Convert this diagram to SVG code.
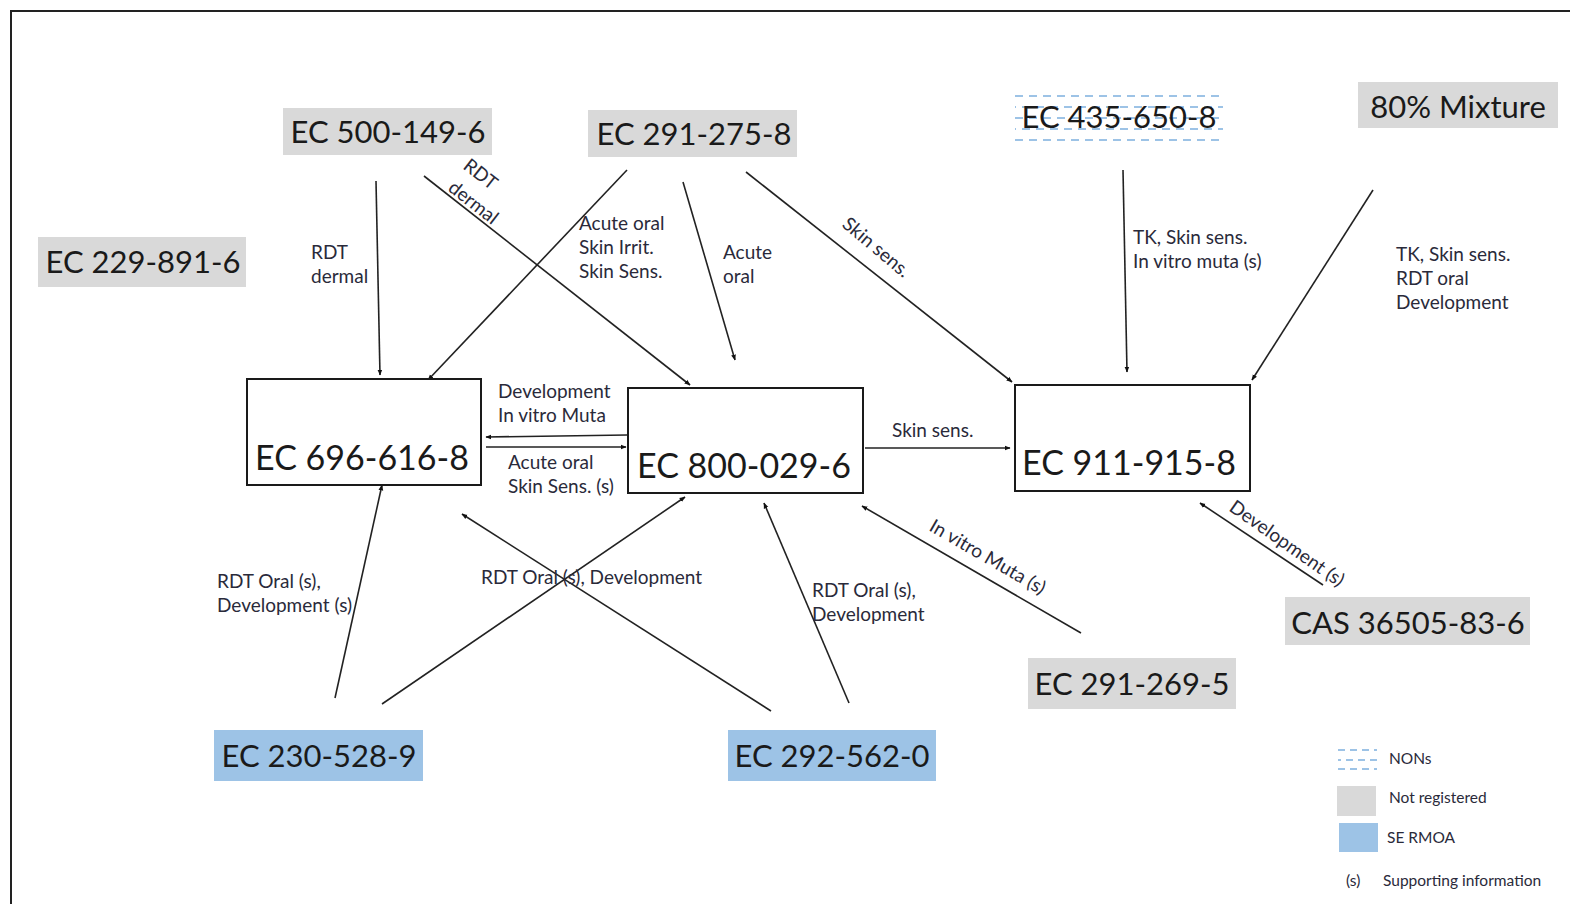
<svg xmlns="http://www.w3.org/2000/svg" width="1570" height="904" viewBox="0 0 1570 904">
<style>
.gray{fill:#d9d9d9}
.blue{fill:#9dc3e6}
.box{fill:#fff;stroke:#1a1a1a;stroke-width:2}
.big{font-family:Lato,"Liberation Sans",sans-serif;font-size:34px;fill:#1a1a1a}
.mid{font-family:Lato,"Liberation Sans",sans-serif;font-size:31px;fill:#1a1a1a}
.lbl{font-family:Lato,"Liberation Sans",sans-serif;font-size:19px;fill:#2a2a3a}
.leg{font-family:Lato,"Liberation Sans",sans-serif;font-size:15.5px;fill:#2a2a3a}
.c line{stroke:#222;stroke-width:1.6;marker-end:url(#ah)}
</style>
<defs>
<marker id="ah" viewBox="0 0 10 10" refX="9" refY="5" markerWidth="6" markerHeight="6" orient="auto" markerUnits="userSpaceOnUse">
<path d="M0,1 L10,5 L0,9 z" fill="#111"/>
</marker>
<pattern id="dash" width="14" height="22" patternUnits="userSpaceOnUse" x="1015" y="92">
<line x1="0" y1="4" x2="8" y2="4" stroke="#9dc3e6" stroke-width="2"/>
<line x1="7" y1="15" x2="14" y2="15" stroke="#9dc3e6" stroke-width="2"/>
<line x1="0" y1="15" x2="1" y2="15" stroke="#9dc3e6" stroke-width="2"/>
</pattern>
</defs>
<rect x="0" y="0" width="1570" height="904" fill="#fff"/>
<rect x="11" y="11" width="1580" height="920" fill="none" stroke="#222" stroke-width="2"/>

<g class="c" id="connectors">
<line x1="376" y1="181" x2="380" y2="375"/>
<line x1="424" y1="176" x2="690" y2="385"/>
<line x1="627" y1="170" x2="428" y2="380"/>
<line x1="683" y1="182" x2="735" y2="360"/>
<line x1="746" y1="172" x2="1012" y2="382"/>
<line x1="1123" y1="170" x2="1127" y2="372"/>
<line x1="1373" y1="190" x2="1252" y2="380"/>
<line x1="627" y1="435" x2="486" y2="437"/>
<line x1="486" y1="447" x2="626" y2="447"/>
<line x1="865" y1="448" x2="1010" y2="448"/>
<line x1="1081" y1="633" x2="862" y2="506"/>
<line x1="1323" y1="585" x2="1200" y2="503"/>
<line x1="335" y1="698" x2="382" y2="485"/>
<line x1="382" y1="704" x2="685" y2="497"/>
<line x1="771" y1="711" x2="462" y2="514"/>
<line x1="849" y1="703" x2="764" y2="503"/>
</g>

<g id="edge-labels">
<text class="lbl" x="311" y="259">RDT</text>
<text class="lbl" x="311" y="283">dermal</text>
<g transform="rotate(38 462 168)"><text class="lbl" x="462" y="168">RDT</text></g>
<g transform="rotate(38 447 190)"><text class="lbl" x="447" y="190">dermal</text></g>
<text class="lbl" x="579" y="230">Acute oral</text>
<text class="lbl" x="579" y="254">Skin Irrit.</text>
<text class="lbl" x="579" y="278">Skin Sens.</text>
<text class="lbl" x="723" y="259">Acute</text>
<text class="lbl" x="723" y="283">oral</text>
<g transform="rotate(40 841 226)"><text class="lbl" x="841" y="226">Skin sens.</text></g>
<text class="lbl" x="1133" y="244">TK, Skin sens.</text>
<text class="lbl" x="1133" y="268">In vitro muta (s)</text>
<text class="lbl" x="1396" y="261">TK, Skin sens.</text>
<text class="lbl" x="1396" y="285">RDT oral</text>
<text class="lbl" x="1396" y="309">Development</text>
<text class="lbl" x="498" y="398">Development</text>
<text class="lbl" x="498" y="422">In vitro Muta</text>
<text class="lbl" x="508" y="469">Acute oral</text>
<text class="lbl" x="508" y="493">Skin Sens. (s)</text>
<text class="lbl" x="892" y="437">Skin sens.</text>
<g transform="rotate(30 928 530)"><text class="lbl" x="928" y="530">In vitro Muta (s)</text></g>
<g transform="rotate(35 1228 510)"><text class="lbl" x="1228" y="510">Development (s)</text></g>
<text class="lbl" x="217" y="588">RDT Oral (s),</text>
<text class="lbl" x="217" y="612">Development (s)</text>
<text class="lbl" x="481" y="584">RDT Oral (s), Development</text>
<text class="lbl" x="812" y="597">RDT Oral (s),</text>
<text class="lbl" x="812" y="621">Development</text>
</g>

<g id="n500"><rect class="gray" x="283" y="108" width="209" height="47"/><text class="mid" x="388" y="143" text-anchor="middle">EC 500-149-6</text></g>
<g id="n291275"><rect class="gray" x="588" y="110" width="209" height="47"/><text class="mid" x="694" y="145" text-anchor="middle">EC 291-275-8</text></g>
<g id="n229"><rect class="gray" x="38" y="237" width="208" height="50"/><text class="mid" x="143" y="273" text-anchor="middle">EC 229-891-6</text></g>
<g id="n435"><rect fill="url(#dash)" x="1015" y="94" width="208" height="50"/><text class="mid" x="1119" y="128" text-anchor="middle">EC 435-650-8</text></g>
<g id="nmix"><rect class="gray" x="1358" y="82" width="200" height="46"/><text class="mid" x="1458" y="118" text-anchor="middle">80% Mixture</text></g>
<g id="n696"><rect class="box" x="247" y="379" width="234" height="106"/><text class="big" x="362" y="470" text-anchor="middle">EC 696-616-8</text></g>
<g id="n800"><rect class="box" x="628" y="388" width="235" height="105"/><text class="big" x="744" y="478" text-anchor="middle">EC 800-029-6</text></g>
<g id="n911"><rect class="box" x="1015" y="385" width="235" height="106"/><text class="big" x="1129" y="475" text-anchor="middle">EC 911-915-8</text></g>
<g id="ncas"><rect class="gray" x="1285" y="597" width="245" height="48"/><text class="mid" x="1408" y="634" text-anchor="middle">CAS 36505-83-6</text></g>
<g id="n291269"><rect class="gray" x="1028" y="658" width="208" height="51"/><text class="mid" x="1132" y="695" text-anchor="middle">EC 291-269-5</text></g>
<g id="n230"><rect class="blue" x="214" y="730" width="209" height="51"/><text class="mid" x="319" y="767" text-anchor="middle">EC 230-528-9</text></g>
<g id="n292"><rect class="blue" x="728" y="730" width="208" height="51"/><text class="mid" x="832" y="767" text-anchor="middle">EC 292-562-0</text></g>

<g id="legend">
<g stroke="#9dc3e6" stroke-width="2" stroke-dasharray="7,5">
<line x1="1338" y1="750" x2="1377" y2="750"/>
<line x1="1338" y1="760" x2="1377" y2="760" stroke-dashoffset="4"/>
<line x1="1338" y1="769" x2="1377" y2="769"/>
</g>
<text class="leg" x="1389" y="764">NONs</text>
<rect class="gray" x="1337" y="786" width="39" height="30"/>
<text class="leg" x="1389" y="803">Not registered</text>
<rect class="blue" x="1339" y="823" width="39" height="29"/>
<text class="leg" x="1387" y="843">SE RMOA</text>
<text class="leg" x="1346" y="886">(s)</text>
<text class="leg" x="1383" y="886">Supporting information</text>
</g>
</svg>
